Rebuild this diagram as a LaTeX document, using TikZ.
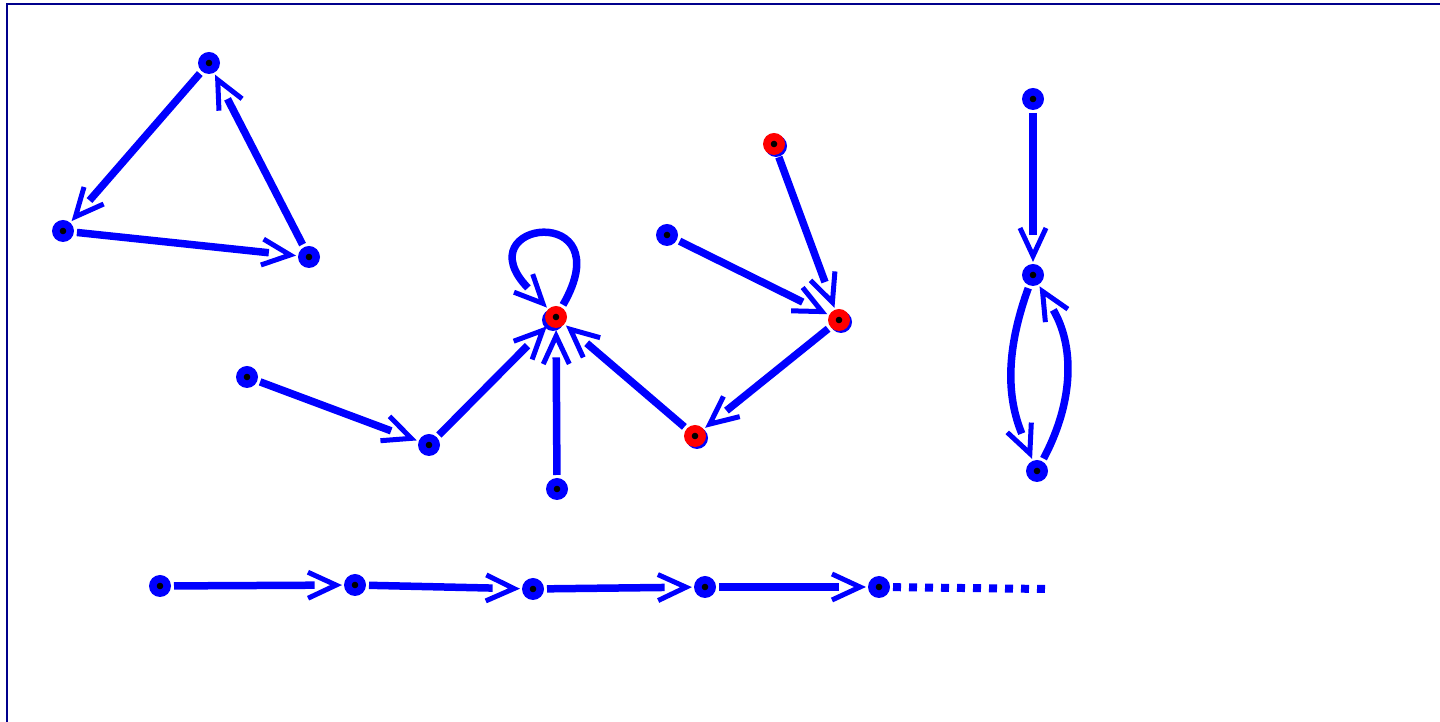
\documentclass[tikz,border=0pt]{standalone}
\usetikzlibrary{arrows.meta}
\definecolor{framenavy}{RGB}{0,0,140}
\pgfdeclarearrow{
  name = Chev,
  defaults = {length=33pt, width=26pt, line width=5pt},
  setup code = {
    \pgfarrowssettipend{0pt}
    \pgfarrowssetlineend{-.8\pgfarrowlength}
    \pgfarrowssetbackend{-\pgfarrowlength}
    \pgfarrowshullpoint{0pt}{0pt}
    \pgfarrowsupperhullpoint{-\pgfarrowlength}{.5\pgfarrowwidth}
    \pgfarrowssavethe\pgfarrowlength
    \pgfarrowssavethe\pgfarrowwidth
    \pgfarrowssavethe\pgfarrowlinewidth
  },
  drawing code = {
    \pgfsetdash{}{0pt}
    \pgfsetlinewidth{\pgfarrowlinewidth}
    \pgfsetmiterjoin
    \pgfsetbuttcap
    \pgfpathmoveto{\pgfqpoint{-\pgfarrowlength}{.5\pgfarrowwidth}}
    \pgfpathlineto{\pgfqpoint{-5pt}{0pt}}
    \pgfpathlineto{\pgfqpoint{-\pgfarrowlength}{-.5\pgfarrowwidth}}
    \pgfusepathqstroke
  },
  parameters = {\the\pgfarrowlength,\the\pgfarrowwidth,\the\pgfarrowlinewidth},
}
\begin{document}
\begin{tikzpicture}[x=1pt,y=1pt,
  vtx/.style={circle, fill=blue, minimum size=22pt, inner sep=0pt, outer sep=3pt,
    path picture={\fill[black] (path picture bounding box.center) circle (3.3pt);}},
  rvtx/.style={vtx, fill=red},
  shadowdisc/.style={fill=blue},
  edge/.style={draw=blue, line width=7.5pt, -{Chev}},
  dots/.style={draw=blue, line width=8pt, dash pattern=on 8pt off 8pt},
  frame/.style={draw=framenavy, line width=2.5pt}]
\useasboundingbox (0,0) rectangle (1440,722);
\draw[frame] (7,-10) -- (7,718) -- (1450,718);
% blue discs behind the red nodes
\fill[shadowdisc] (553,402) circle (11pt);
\fill[shadowdisc] (697,284) circle (11pt);
\fill[shadowdisc] (776,576) circle (11pt);
\fill[shadowdisc] (841,400) circle (11pt);
% nodes
\node[vtx] (A) at (209,659) {};
\node[vtx] (B) at (63,491) {};
\node[vtx] (C) at (309,465) {};
\node[vtx] (D) at (247,345) {};
\node[vtx] (E) at (429,277) {};
\node[rvtx] (F) at (556,405) {};
\node[vtx] (G) at (557,233) {};
\node[rvtx] (H) at (695,286) {};
\node[rvtx] (I) at (774,578) {};
\node[rvtx] (J) at (839,402) {};
\node[vtx] (K) at (667,487) {};
\node[vtx] (L) at (1033,623) {};
\node[vtx] (M) at (1033,447) {};
\node[vtx] (N) at (1037,251) {};
\node[vtx] (P1) at (160,136) {};
\node[vtx] (P2) at (355,137) {};
\node[vtx] (P3) at (533,133) {};
\node[vtx] (P4) at (705,135) {};
\node[vtx] (P5) at (879,135) {};
\coordinate (dend) at (1045,133);
% edges
\draw[edge] (A) -- (B);
\draw[edge] (B) -- (C);
\draw[edge] (C) -- (A);
\draw[edge] (D) -- (E);
\draw[edge] (E) -- (F);
\draw[edge] (G) -- (F);
\draw[edge] (H) -- (F);
\draw[edge] (F) to[out=60,in=134,distance=120pt] (F);
\draw[edge] (I) -- (J);
\draw[edge] (K) -- (J);
\draw[edge] (J) -- (H);
\draw[edge] (L) -- (M);
\draw[edge] (M) to[bend right=21] (N);
\draw[edge] (N) to[bend right=29] (M);
\draw[edge] (P1) -- (P2);
\draw[edge] (P2) -- (P3);
\draw[edge] (P3) -- (P4);
\draw[edge] (P4) -- (P5);
\draw[dots] (P5) -- (dend);
\end{tikzpicture}
\end{document}
